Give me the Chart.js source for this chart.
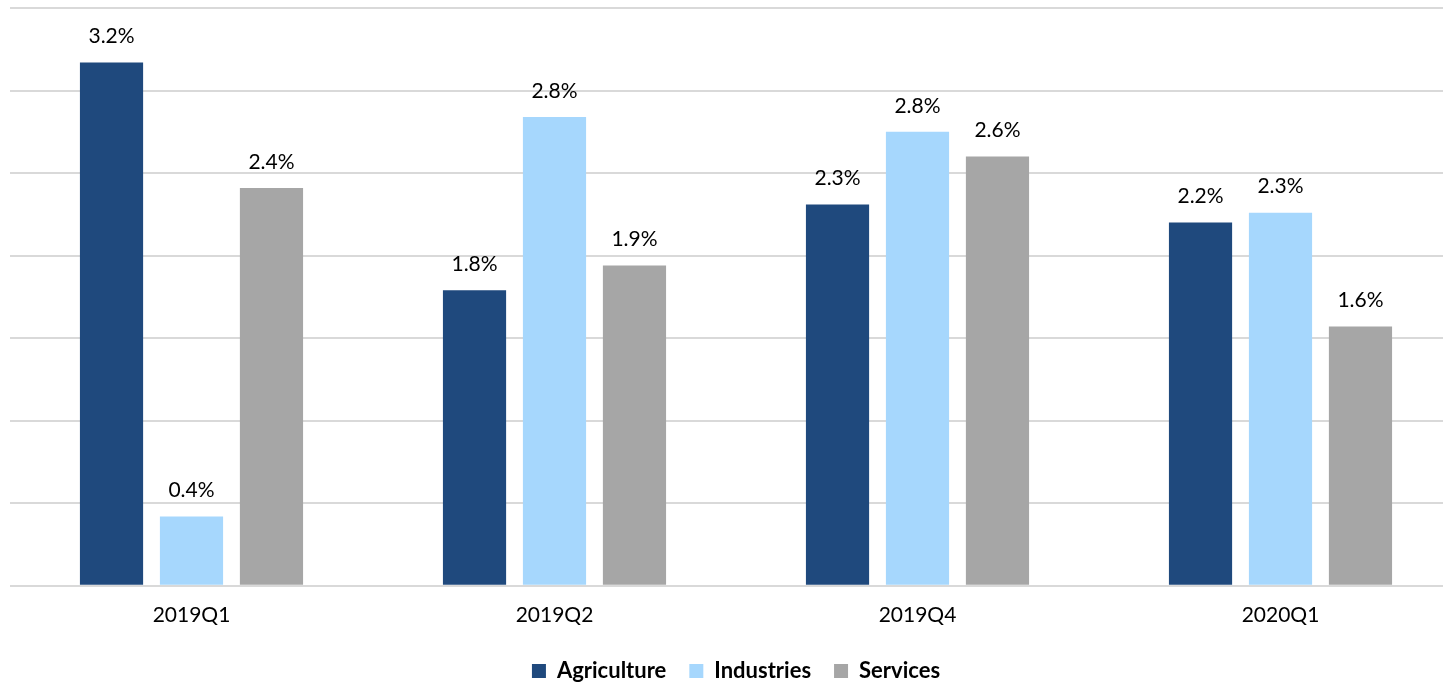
<!DOCTYPE html>
<html>
<head>
<meta charset="utf-8">
<script src="https://cdn.jsdelivr.net/npm/chart.js@4"></script>
<style>
  html, body { margin: 0; padding: 0; background: #fff; overflow: hidden; }
  #wrap { width: 1470px; height: 692px; }
</style>
</head>
<body>
<div id="wrap"><canvas id="grafico"></canvas></div>
<script>
const quarters = ['2019Q1', '2019Q2', '2019Q4', '2020Q1'];
const agriculture = [3.17, 1.79, 2.31, 2.20];
const industries = [0.42, 2.84, 2.75, 2.26];
const services = [2.41, 1.94, 2.60, 1.57];

const fonte = "Lato, 'Open Sans', sans-serif";

// rótulos em cima das barras
const rotulos = {
	id: 'rotulos',
	afterDatasetsDraw(chart) {
		const ctx = chart.ctx;
		ctx.save();
		ctx.font = '21px ' + fonte;
		ctx.fillStyle = '#000';
		ctx.textAlign = 'center';
		ctx.textBaseline = 'middle';
		chart.data.datasets.forEach((ds, i) => {
			chart.getDatasetMeta(i).data.forEach((bar, j) => {
				ctx.fillText(ds.data[j].toFixed(1) + '%', bar.x, bar.y - 26);
			});
		});
		ctx.restore();
	}
};

const ctx = document.getElementById('grafico').getContext('2d');
const chart = new Chart(ctx, {
	type: 'bar',
	data: {
		labels: quarters,
		datasets: [
			{ label: 'Agriculture', data: agriculture, backgroundColor: '#1F497D' },
			{ label: 'Industries', data: industries, backgroundColor: '#A6D7FD' },
			{ label: 'Services', data: services, backgroundColor: '#A6A6A6' }
		]
	},
	options: {
		responsive: true,
		maintainAspectRatio: false,
		animation: false,
		datasets: { bar: { categoryPercentage: 0.661, barPercentage: 0.79 } },
		layout: { padding: { left: 10, right: 8, top: 8, bottom: 0 } },
		plugins: {
			legend: {
				position: 'bottom',
				labels: {
					boxWidth: 14, boxHeight: 14, padding: 23,
					color: '#000',
					font: { family: fonte, size: 22, weight: 'bold' }
				}
			},
			tooltip: { enabled: false }
		},
		scales: {
			x: {
				grid: { display: false },
				border: { display: false },
				ticks: { color: '#000', font: { family: fonte, size: 21 }, padding: 9 }
			},
			y: {
				min: 0, max: 3.5,
				ticks: { display: false, stepSize: 0.5 },
				border: { display: false },
				grid: { color: '#D9D9D9', lineWidth: 2, drawTicks: false }
			}
		}
	},
	plugins: [rotulos]
});
</script>
</body>
</html>
